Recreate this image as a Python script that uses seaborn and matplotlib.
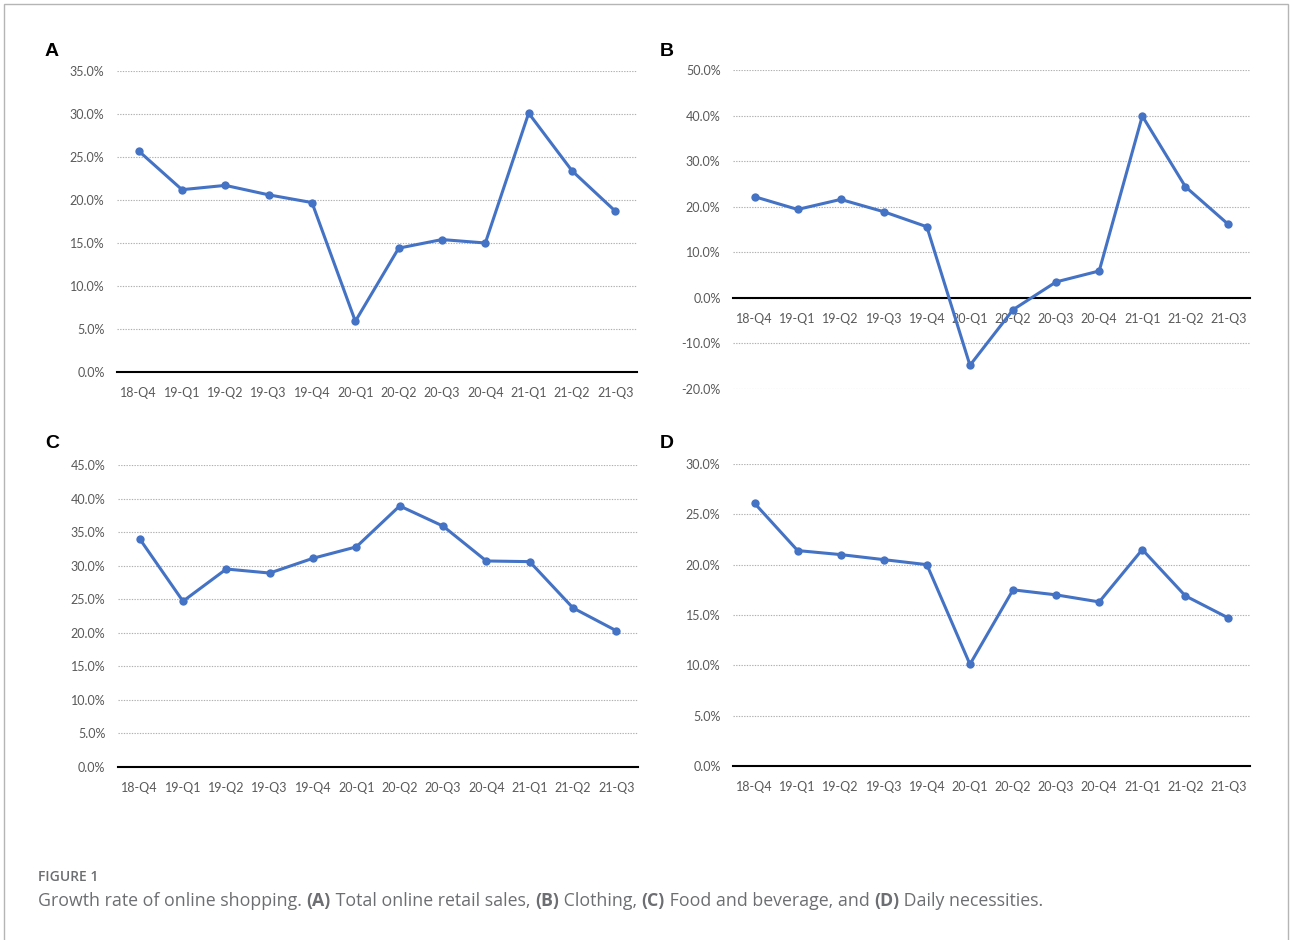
import matplotlib
matplotlib.use("Agg")
import numpy as np
import pandas as pd
import matplotlib.pyplot as plt
import seaborn as sns
from matplotlib.patches import Rectangle

# Quarterly year-on-year growth rates (%)
quarters = ["18-Q4", "19-Q1", "19-Q2", "19-Q3", "19-Q4", "20-Q1",
            "20-Q2", "20-Q3", "20-Q4", "21-Q1", "21-Q2", "21-Q3"]
total_online = [25.7, 21.2, 21.7, 20.6, 19.7, 5.9, 14.4, 15.4, 15.0, 30.1, 23.4, 18.7]
clothing = [22.2, 19.4, 21.6, 18.9, 15.6, -14.8, -2.6, 3.5, 5.9, 39.9, 24.4, 16.1]
food_beverage = [34.0, 24.7, 29.5, 28.9, 31.1, 32.8, 38.9, 35.9, 30.7, 30.6, 23.7, 20.3]
daily_necessities = [26.1, 21.4, 21.0, 20.5, 20.0, 10.1, 17.5, 17.0, 16.3, 21.5, 16.9, 14.7]

W, H = 1290, 940
sns.set_theme(style="white")
plt.rcParams["font.family"] = ["Lato", "DejaVu Sans"]

fig = plt.figure(figsize=(W / 100, H / 100), dpi=100)


def px_rect(x0, y0, x1, y1):
    return [x0 / W, 1 - y1 / H, (x1 - x0) / W, (y1 - y0) / H]


panels = [
    ("A", total_online, (0, 35), 5, px_rect(117, 71, 637, 372), (52, 52)),
    ("B", clothing, (-20, 50), 10, px_rect(733, 70, 1250, 389), (667, 52)),
    ("C", food_beverage, (0, 45), 5, px_rect(118, 465, 638, 767), (52, 443)),
    ("D", daily_necessities, (0, 30), 5, px_rect(733, 464, 1250, 766), (667, 443)),
]

line_color = "#4472C4"
tick_color = "#595959"

for letter, values, (ymin, ymax), step, rect, (lx, ly) in panels:
    ax = fig.add_axes(rect)
    df = pd.DataFrame({"quarter": quarters, "growth": values})
    sns.lineplot(data=df, x="quarter", y="growth", ax=ax, sort=False,
                 color=line_color, linewidth=2.2, marker="o", markersize=6,
                 markeredgewidth=0, markeredgecolor=line_color)
    ax.set_xlim(-0.5, len(quarters) - 0.5)
    ax.set_ylim(ymin, ymax)
    yt = np.arange(ymin, ymax + step / 2, step)
    ax.set_yticks(yt)
    ax.set_yticklabels([f"{v:.1f}%" for v in yt])
    ax.set_xlabel("")
    ax.set_ylabel("")
    ax.yaxis.grid(True, linestyle=(0, (1.2, 1.2)), color="#b0b0b0", linewidth=0.8)
    ax.xaxis.grid(False)
    ax.set_axisbelow(True)
    for side in ("top", "right", "left"):
        ax.spines[side].set_visible(False)
    ax.spines["bottom"].set_position(("data", 0))
    ax.spines["bottom"].set_color("black")
    ax.spines["bottom"].set_linewidth(1.5)
    ax.spines["bottom"].set_zorder(1.5)
    ax.tick_params(axis="both", length=0, labelsize=9, labelcolor=tick_color)
    ax.tick_params(axis="x", pad=11)
    ax.tick_params(axis="y", pad=9)
    ax.patch.set_alpha(0)
    fig.text(lx / W, 1 - ly / H, letter, ha="center", va="center",
             fontsize=14, fontweight="bold", color="black",
             family=["Liberation Sans", "DejaVu Sans"])

# Thin frame around the figure area
fig.patches.append(Rectangle((4 / W, -0.02), (1288 - 4) / W, 1.02 - 4 / H,
                             transform=fig.transFigure, fill=False,
                             edgecolor="#b5b5b5", linewidth=1.0))

caption_color = "#6d6e71"
caption_family = ["Open Sans", "DejaVu Sans"]
fig.text(38 / W, 1 - 877 / H, "FIGURE 1", ha="left", va="center",
         fontsize=10, fontweight="semibold", color=caption_color,
         family=caption_family)

segments = [
    ("Growth rate of online shopping. ", "normal"),
    ("(A)", "bold"),
    (" Total online retail sales, ", "normal"),
    ("(B)", "bold"),
    (" Clothing, ", "normal"),
    ("(C)", "bold"),
    (" Food and beverage, and ", "normal"),
    ("(D)", "bold"),
    (" Daily necessities.", "normal"),
]
renderer = fig.canvas.get_renderer()
x = 38 / W
for txt, weight in segments:
    t = fig.text(x, 1 - 901 / H, txt, ha="left", va="center", fontsize=12.8,
                 fontweight=weight, color=caption_color, family=caption_family)
    bb = t.get_window_extent(renderer=renderer)
    x = bb.x1 / W

fig.savefig("out.png", dpi=100, facecolor="white")
